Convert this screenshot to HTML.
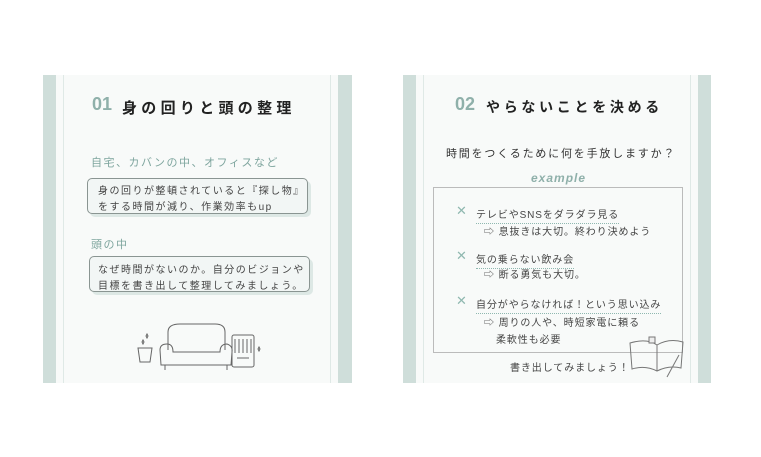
<!DOCTYPE html>
<html><head><meta charset="utf-8"><style>
*{margin:0;padding:0;box-sizing:border-box}
body{width:761px;height:457px;background:#fff;position:relative;overflow:hidden;font-family:"Liberation Sans","Noto Sans CJK JP",sans-serif;color:#333}
.a{position:absolute;white-space:nowrap}
.band{position:absolute;background:#cfdeda}
.ln{position:absolute;width:1px;background:#dfe9e6}
.panel{position:absolute;background:#f8faf9}
.box{position:absolute;border:1.3px solid #8a9592;border-radius:5px;background:#f2f6f5;box-shadow:3px 3px 0 #dde8e5}
.t{font-size:10px;letter-spacing:1.5px;color:#444}
.r{font-size:10px;letter-spacing:0.9px;color:#444}
.h{font-size:15px;font-weight:bold;letter-spacing:4.3px;color:#222}
.sub{font-size:11px;color:#7ea59e;letter-spacing:1.5px}
.x{color:#8fb8b0;font-size:13px}
.dot{border-bottom:1.5px dotted #8fb8b0}
</style></head><body>
<div class="panel" style="left:43px;top:75px;width:309px;height:308px"></div>
<div class="band" style="left:43px;top:75px;width:13px;height:308px"></div>
<div class="band" style="left:338px;top:75px;width:14px;height:308px"></div>
<div class="ln" style="left:63px;top:75px;height:308px"></div>
<div class="ln" style="left:330px;top:75px;height:308px"></div>
<div class="a" style="left:92px;top:94px;font-size:18px;color:#8fb0aa;font-weight:bold">01</div>
<div class="a h" style="left:122px;top:97px">身の回りと頭の整理</div>
<div class="a sub" style="left:91px;top:154px">自宅、カバンの中、オフィスなど</div>
<div class="box" style="left:87px;top:178px;width:221px;height:36px"></div>
<div class="a t" style="left:98px;top:182px">身の回りが整頓されていると『探し物』</div>
<div class="a t" style="left:98px;top:198px">をする時間が減り、作業効率もup</div>
<div class="a sub" style="left:91px;top:236px">頭の中</div>
<div class="box" style="left:89px;top:256px;width:221px;height:36px"></div>
<div class="a t" style="left:98px;top:261px">なぜ時間がないのか。自分のビジョンや</div>
<div class="a t" style="left:98px;top:277px">目標を書き出して整理してみましょう。</div>
<svg class="a" style="left:135px;top:320px" width="135" height="55" fill="none" stroke="#666" stroke-width="1">
<path d="M33 30 V12 Q33 4 45 4 H80 Q90 4 90 12 V30"/>
<path d="M25 30 Q25 24 32 24 Q38 24 38 32 H85 Q85 24 92 24 Q98 26 97 32 L96 45 H26 Z"/>
<path d="M30 45 V50 M92 45 V50"/>
<rect x="97" y="15" width="22" height="32" rx="2"/><path d="M100 19 V33 M104 19 V33 M108 19 V33 M112 19 V33 M116 19 V33 M102 38 H114"/>
<path d="M3 28 H17 L15 42 H5 Z"/>
<path d="M12 14 l1 2 -1 2 -1 -2z M8 20 l1 2 -1 2 -1 -2z M124 27 l1 2 -1 2 -1 -2z"/>
</svg>
<div class="panel" style="left:403px;top:75px;width:308px;height:308px"></div>
<div class="band" style="left:403px;top:75px;width:13px;height:308px"></div>
<div class="band" style="left:698px;top:75px;width:13px;height:308px"></div>
<div class="ln" style="left:423px;top:75px;height:308px"></div>
<div class="ln" style="left:690px;top:75px;height:308px"></div>
<div class="a" style="left:455px;top:94px;font-size:18px;color:#8fb0aa;font-weight:bold">02</div>
<div class="a h" style="left:486px;top:97px;font-size:14px;letter-spacing:3.7px">やらないことを決める</div>
<div class="a" style="left:446px;top:145px;font-size:11px;letter-spacing:1.8px;color:#333">時間をつくるために何を手放しますか？</div>
<div class="a" style="left:531px;top:171px;font-size:12px;font-style:italic;font-weight:bold;color:#8fb0aa;letter-spacing:1px">example</div>
<div class="a" style="left:433px;top:187px;width:250px;height:166px;border:1px solid #bbb"></div>
<div class="a x" style="left:456px;top:203px">✕</div>
<div class="a r dot" style="left:476px;top:206px;padding-bottom:2px">テレビやSNSをダラダラ見る</div>
<div class="a r" style="left:484px;top:223px">⇨ 息抜きは大切。終わり決めよう</div>
<div class="a x" style="left:456px;top:248px">✕</div>
<div class="a r dot" style="left:476px;top:251px;padding-bottom:2px">気の乗らない飲み会</div>
<div class="a r" style="left:484px;top:266px">⇨ 断る勇気も大切。</div>
<div class="a x" style="left:456px;top:293px">✕</div>
<div class="a r dot" style="left:476px;top:296px;padding-bottom:2px">自分がやらなければ！という思い込み</div>
<div class="a r" style="left:484px;top:314px">⇨ 周りの人や、時短家電に頼る</div>
<div class="a r" style="left:496px;top:331px">柔軟性も必要</div>
<div class="a r" style="left:510px;top:359px">書き出してみましょう！</div>
<svg class="a" style="left:627px;top:335px" width="60" height="45" fill="none" stroke="#777" stroke-width="1">
<path d="M3 8 Q20 3 30 10 Q42 3 56 7 L54 33 Q42 30 30 36 Q18 30 5 34 Z"/><path d="M30 10 V36"/>
<rect x="22" y="2" width="6" height="6" fill="#eee"/><path d="M52 20 L40 42"/>
</svg>
</body></html>
